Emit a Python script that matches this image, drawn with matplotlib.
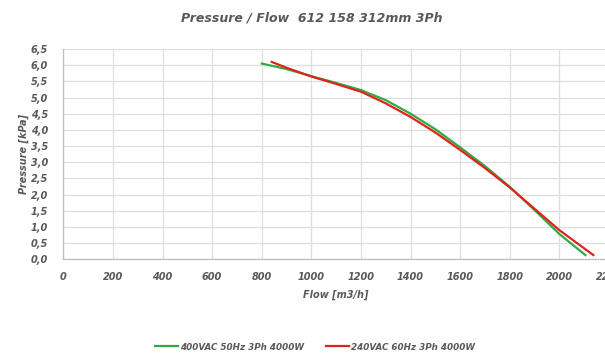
import numpy as np
import matplotlib
matplotlib.use("Agg")
import matplotlib.pyplot as plt
from matplotlib.ticker import FuncFormatter

# --- Dados ---
flow_50hz = [800, 900, 1000, 1100, 1200, 1300, 1400, 1500, 1600, 1700, 1800, 1900, 2000, 2105]
press_50hz = [6.05, 5.88, 5.66, 5.45, 5.23, 4.92, 4.50, 4.02, 3.46, 2.88, 2.24, 1.52, 0.78, 0.13]

flow_60hz = [840, 900, 1000, 1100, 1200, 1300, 1400, 1500, 1600, 1700, 1800, 1900, 2000, 2137]
press_60hz = [6.10, 5.92, 5.65, 5.42, 5.18, 4.82, 4.40, 3.92, 3.38, 2.82, 2.22, 1.56, 0.90, 0.13]

label_50hz = "400VAC 50Hz 3Ph 4000W"
label_60hz = "240VAC 60Hz 3Ph 4000W"

x_ticks = np.arange(0, 2201, 200)
y_ticks = np.arange(0, 6.51, 0.5)

cinza = "#595959"
W, H = 605, 355

fig = plt.figure(figsize=(W / 100, H / 100), dpi=100)
# eixo vai além da borda direita (imagem original cortada)
ax = fig.add_axes([63.3 / W, 1 - 259.3 / H, (609 - 63.3) / W, (259.3 - 49) / H])

ax.plot(flow_50hz, press_50hz, color="#2eaa48", lw=1.6, label=label_50hz)
ax.plot(flow_60hz, press_60hz, color="#e2231a", lw=1.6, label=label_60hz)

ax.set_xlim(0, 2200)
ax.set_ylim(0, 6.5)
ax.set_xticks(x_ticks)
ax.set_yticks(y_ticks)
ax.yaxis.set_major_formatter(FuncFormatter(lambda v, p: f"{v:.1f}".replace(".", ",")))
ax.grid(True, color="#dedede", lw=0.9)
ax.set_axisbelow(True)
for s in ["top", "right"]:
    ax.spines[s].set_visible(False)
for s in ["left", "bottom"]:
    ax.spines[s].set_color("#bfbfbf")
    ax.spines[s].set_linewidth(0.9)

fonte = dict(fontsize=7, fontweight="bold", fontstyle="italic", color=cinza)
ax.tick_params(length=0, labelcolor=cinza, labelsize=7)
ax.tick_params(axis="y", pad=11)
ax.tick_params(axis="x", pad=9)
for t in ax.get_xticklabels() + ax.get_yticklabels():
    t.set_fontweight("bold")
    t.set_fontstyle("italic")

ax.set_xlabel("Flow [m3/h]", labelpad=6, **fonte)
ax.set_ylabel("Pressure [kPa]", labelpad=1, **fonte)

fig.text(312 / W, 1 - 18 / H, "Pressure / Flow  612 158 312mm 3Ph", ha="center", va="center",
         fontsize=9, fontweight="bold", fontstyle="italic", color=cinza)

leg = fig.legend(loc="center", bbox_to_anchor=(315 / W, 1 - 347 / H), ncol=2, frameon=False,
                 handlelength=2.6, columnspacing=2.6, handletextpad=0.2,
                 prop=dict(size=6.3, weight="bold", style="italic"))
for t in leg.get_texts():
    t.set_color(cinza)

fig.savefig("out.png", dpi=100)
